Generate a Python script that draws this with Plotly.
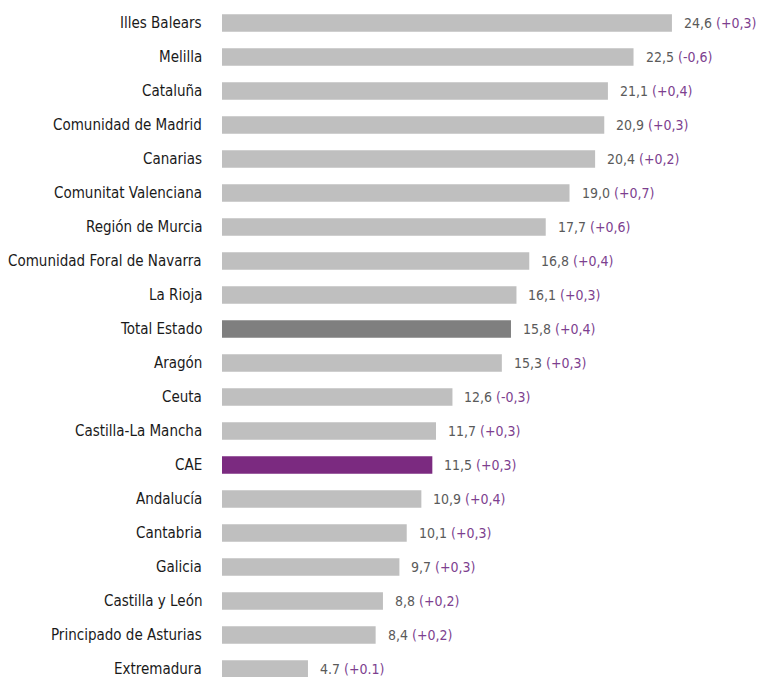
import plotly.graph_objects as go

regions = [
    "Illes Balears", "Melilla", "Cataluña", "Comunidad de Madrid", "Canarias",
    "Comunitat Valenciana", "Región de Murcia", "Comunidad Foral de Navarra",
    "La Rioja", "Total Estado", "Aragón", "Ceuta", "Castilla-La Mancha", "CAE",
    "Andalucía", "Cantabria", "Galicia", "Castilla y León",
    "Principado de Asturias", "Extremadura",
]
rates = [24.6, 22.5, 21.1, 20.9, 20.4, 19.0, 17.7, 16.8, 16.1, 15.8,
         15.3, 12.6, 11.7, 11.5, 10.9, 10.1, 9.7, 8.8, 8.4, 4.7]
changes = [0.3, -0.6, 0.4, 0.3, 0.2, 0.7, 0.6, 0.4, 0.3, 0.4,
           0.3, -0.3, 0.3, 0.3, 0.4, 0.3, 0.3, 0.2, 0.2, 0.1]
# rows printed with a point as decimal mark instead of a comma
point_decimal = {"Extremadura"}

GREY = "#bfbfbf"
DARK = "#7f7f7f"
PURPLE = "#7b2a80"
NUM_COL = "#5a5a5a"
CHG_COL = "#7d3f8f"
FONT = "DejaVu Sans Condensed, Liberation Sans Narrow, sans-serif"

colors = [DARK if r == "Total Estado" else PURPLE if r == "CAE" else GREY
          for r in regions]


def fmt(v, sign, region):
    s = f"{v:+.1f}" if sign else f"{v:.1f}"
    return s if region in point_decimal else s.replace(".", ",")


fig = go.Figure(go.Bar(
    x=rates, y=regions, orientation="h",
    marker=dict(color=colors, line=dict(width=0)),
    width=0.51, hoverinfo="skip",
))

annotations = []
for r, v, c in zip(regions, rates, changes):
    annotations.append(dict(
        x=0, y=r, xref="x", yref="y", xanchor="right", yanchor="middle",
        xshift=-18, showarrow=False, text=r,
        font=dict(family=FONT, size=15, color="#1a1a1a"),
    ))
    annotations.append(dict(
        x=v, y=r, xref="x", yref="y", xanchor="left", yanchor="middle",
        xshift=10, showarrow=False,
        text=(f"<span style='color:{NUM_COL}'>{fmt(v, False, r)}</span> "
              f"<span style='color:{CHG_COL}'>({fmt(c, True, r)})</span>"),
        font=dict(family=FONT, size=14),
    ))

fig.update_layout(
    width=764, height=677,
    margin=dict(l=222, r=0, t=0, b=0),
    paper_bgcolor="white", plot_bgcolor="white",
    showlegend=False,
    xaxis=dict(range=[0, 542 / 18.29], visible=False, fixedrange=True),
    yaxis=dict(type="category", categoryorder="array", categoryarray=regions,
               range=[(677 - 23) / 34, -23 / 34], visible=False,
               fixedrange=True),
    annotations=annotations,
)

fig.write_html("out.html")
